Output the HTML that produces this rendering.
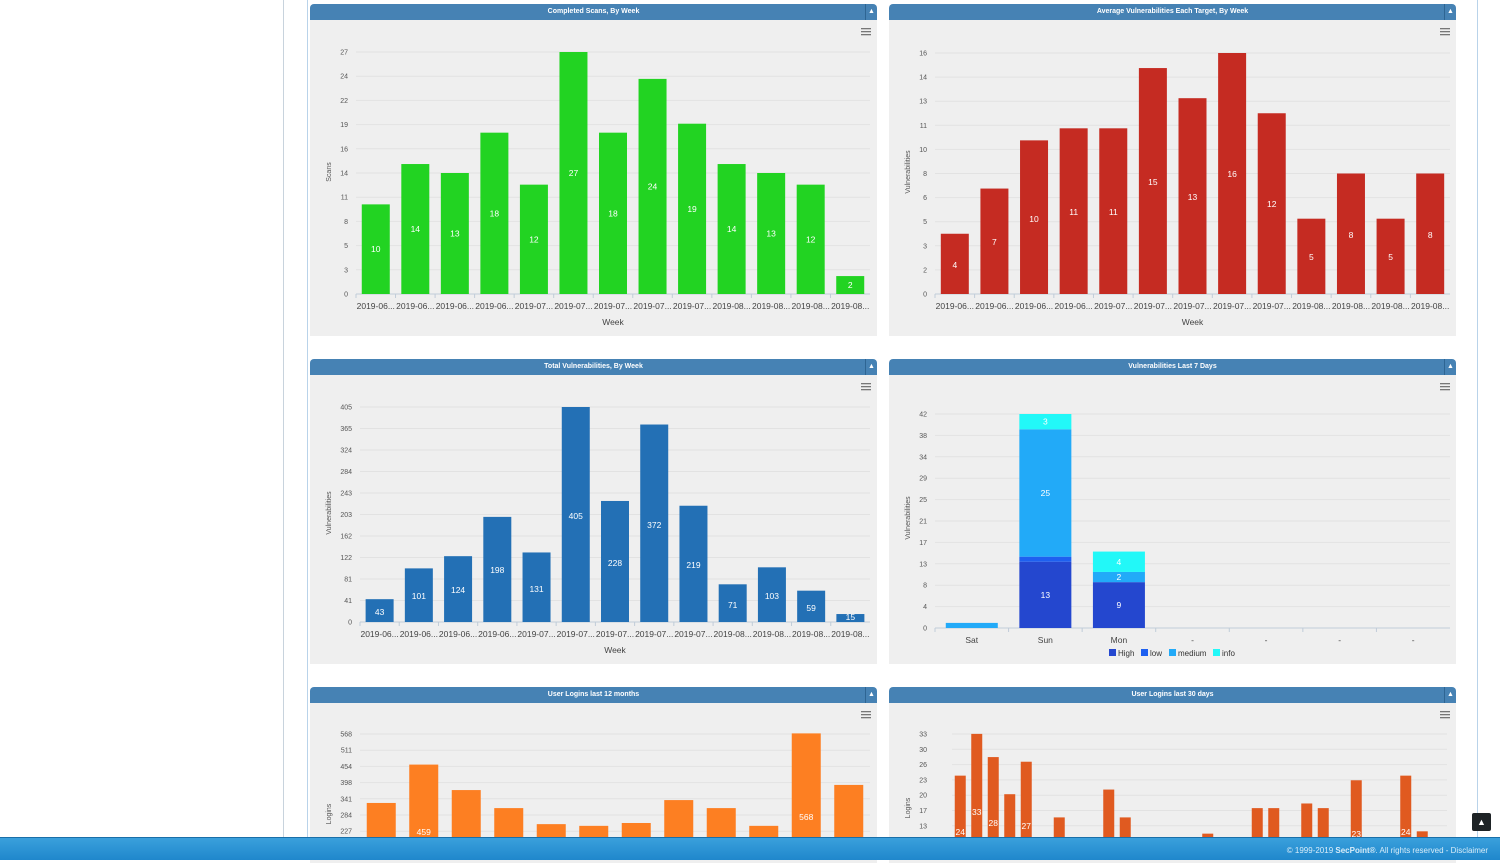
<!DOCTYPE html>
<html><head><meta charset="utf-8"><style>
html,body{margin:0;padding:0;width:1500px;height:859px;overflow:hidden;background:#fff;font-family:"Liberation Sans",sans-serif}
#side{position:absolute;left:283px;top:0;width:1px;height:859px;background:#c8d3dd}
#main{position:absolute;left:307px;top:0;width:1169px;height:859px;border-left:1px solid #b9d3ea;border-right:1px solid #b9d3ea}
.hdr{position:absolute;height:16px;background:#4682b4;border-radius:4px 4px 0 0;color:#fff;font-size:7px;font-weight:bold;text-align:center;line-height:16px}
.hdr .ar{position:absolute;right:0;top:0;width:11px;height:16px;border-left:1px solid #2e6593;font-size:7px;line-height:16px;text-align:center}
.bd{position:absolute;background:#efefef}
#foot{position:absolute;left:0;top:837px;width:1500px;height:22px;background:linear-gradient(#3aa0dc,#1f87cc);border-top:1px solid #1a6fa8}
#foot span{position:absolute;right:12px;top:8px;font-size:8px;color:#d8ecf8}
#top{position:absolute;left:1472px;top:813px;width:19px;height:18px;background:#1e2326;border-radius:2px;color:#fff;font-size:9px;text-align:center;line-height:18px}
svg{position:absolute;left:0;top:0}
</style></head><body>
<div id="side"></div><div id="main"></div>
<div id="panels"></div>
<svg id="s" width="1500" height="859" font-family="Liberation Sans, sans-serif"></svg>
<div id="foot"><span>© 1999-2019 <b>SecPoint®</b>. All rights reserved - Disclaimer</span></div>
<div id="top">▲</div>
<script>
var P=document.getElementById('panels'),S=document.getElementById('s'),h='';
function panel(x,y,w,bh,t){P.innerHTML+='<div class="bd" style="left:'+x+'px;top:'+(y+16)+'px;width:'+w+'px;height:'+bh+'px"></div><div class="hdr" style="left:'+x+'px;top:'+y+'px;width:'+w+'px">'+t+'<div class="ar">▲</div></div>';
 for(var i=0;i<3;i++)h+='<rect x="'+(x+w-16)+'" y="'+(y+24+i*3)+'" width="10" height="1.3" fill="#777"/>';}
panel(310,4,567,316,'Completed Scans, By Week');
panel(889,4,567,316,'Average Vulnerabilities Each Target, By Week');
panel(310,359,567,289,'Total Vulnerabilities, By Week');
panel(889,359,567,289,'Vulnerabilities Last 7 Days');
panel(310,687,567,160,'User Logins last 12 months');
panel(889,687,567,160,'User Logins last 30 days');
function T(x,y,s,sz,c,a,extra){h+='<text x="'+x+'" y="'+y+'" font-size="'+sz+'" fill="'+c+'" text-anchor="'+(a||'middle')+'" '+(extra||'')+'>'+s+'</text>';}
function chart(o){
 var y0=o.y0,y1=o.y1;
 for(var i=0;i<o.ticks.length;i++){var y=y0-(y0-y1)*i/(o.ticks.length-1);
  h+='<line x1="'+o.px0+'" x2="'+o.px1+'" y1="'+y+'" y2="'+y+'" stroke="#e2e2e2" stroke-width="1"/>';
  T(o.lx,y+2.5,o.ticks[i],7,'#555','end');}
 h+='<line x1="'+o.px0+'" x2="'+o.px1+'" y1="'+y0+'" y2="'+y0+'" stroke="#c0ccd8"/>';
 var n=o.vals.length,cw=(o.px1-o.px0)/n;
 for(i=0;i<n;i++){var v=o.vals[i],cx=o.px0+cw*(i+.5);
  if(o.xl){h+='<line x1="'+(o.px0+cw*i)+'" x2="'+(o.px0+cw*i)+'" y1="'+y0+'" y2="'+(y0+4)+'" stroke="#c0ccd8"/>';T(cx,y0+15,o.xl[i],8.5,'#444');}
  if(v==null)continue;var top=y0-v*o.k;
  h+='<rect x="'+(cx-o.bw/2)+'" y="'+top+'" width="'+o.bw+'" height="'+(y0-top)+'" fill="'+o.c+'"/>';
  if(o.lab&&o.lab[i]!=null)T(cx,o.laby?o.laby[i]:(top+(y0-top)/2+3),o.lab[i],8.5,'#fff');}
 if(o.title)T(o.tx,o.ty,o.title,7,'#555','middle','transform="rotate(-90 '+o.tx+' '+o.ty+')"');
 if(o.xt)T((o.px0+o.px1)/2,o.y0+31,o.xt,8.5,'#444');
}
var wk1=['2019-06...','2019-06...','2019-06...','2019-06...','2019-07...','2019-07...','2019-07...','2019-07...','2019-07...','2019-08...','2019-08...','2019-08...','2019-08...'];
var v1=[10,14.5,13.5,18,12.2,27,18,24,19,14.5,13.5,12.2,2];
chart({y0:294,y1:52,ticks:[0,3,5,8,11,14,16,19,22,24,27],lx:348,px0:356,px1:870,vals:v1,k:242/27,bw:28,c:'#22d322',lab:[10,14,13,18,12,27,18,24,19,14,13,12,2],xl:wk1,title:'Scans',tx:331,ty:172,xt:'Week'});
var v2=[4,7,10.2,11,11,15,13,16,12,5,8,5,8];
chart({y0:294,y1:53,ticks:[0,2,3,5,6,8,10,11,13,14,16],lx:927,px0:935,px1:1450,vals:v2,k:241/16,bw:28,c:'#c52b22',lab:[4,7,10,11,11,15,13,16,12,5,8,5,8],laby:[268,245,222,215,215,185,200,177,207,260,238,260,238],xl:wk1,title:'Vulnerabilities',tx:910,ty:172,xt:'Week'});
var v3=[43,101,124,198,131,405,228,372,219,71,103,59,15];
chart({y0:622,y1:407,ticks:[0,41,81,122,162,203,243,284,324,365,405],lx:352,px0:360,px1:870,vals:v3,k:215/405,bw:28,c:'#2370b5',lab:v3,laby:[615,599,593,573,592,519,566,528,568,608,599,611,620],xl:wk1,title:'Vulnerabilities',tx:331,ty:513,xt:'Week'});
// stacked chart 4
(function(){var y0=628,y1=414,k=214/42,px0=935,px1=1450,ticks=[0,4,8,13,17,21,25,29,34,38,42];
 for(var i=0;i<ticks.length;i++){var y=y0-(y0-y1)*i/10;h+='<line x1="'+px0+'" x2="'+px1+'" y1="'+y+'" y2="'+y+'" stroke="#e2e2e2"/>';T(927,y+2.5,ticks[i],7,'#555','end');}
 h+='<line x1="'+px0+'" x2="'+px1+'" y1="'+y0+'" y2="'+y0+'" stroke="#c0ccd8"/>';
 var cw=(px1-px0)/7,xl=['Sat','Sun','Mon','-','-','-','-'];
 var cols=['#2447cf','#1e60f0','#22aaf8','#22f8f8'];
 var data=[[0,0,1,0],[13,1,25,3],[9,0,2,4]],labs=[[null,null,null,null],[13,null,25,3],[9,null,2,4]];
 for(i=0;i<7;i++){var cx=px0+cw*(i+.5);h+='<line x1="'+(px0+cw*i)+'" x2="'+(px0+cw*i)+'" y1="'+y0+'" y2="'+(y0+4)+'" stroke="#c0ccd8"/>';T(cx,y0+15,xl[i],8.5,'#444');
  if(i<3){var b=y0;for(var j=0;j<4;j++){var v=data[i][j];if(!v)continue;var hh=v*k;h+='<rect x="'+(cx-26)+'" y="'+(b-hh)+'" width="52" height="'+hh+'" fill="'+cols[j]+'"/>';if(labs[i][j]!=null)T(cx,b-hh/2+3,labs[i][j],8.5,'#fff');b-=hh;}}}
 T(910,518,'Vulnerabilities',7,'#555','middle','transform="rotate(-90 910 518)"');
 var lx=1109,names=['High','low','medium','info'],off=[0,32,60,104];
 for(j=0;j<4;j++){h+='<rect x="'+(lx+off[j])+'" y="649" width="7" height="7" fill="'+cols[j]+'"/>';T(lx+off[j]+9,656,names[j],8,'#333','start');}
})();
var v5=[325,459,370,307,251,245,255,335,307,245,568,388];
chart({y0:896,y1:734,ticks:[0,0,0,0,227,284,341,398,454,511,568],lx:352,px0:360,px1:870,vals:v5,k:0.2863,bw:29,c:'#fd7f22',lab:[null,459,null,null,null,null,null,null,null,null,568,null],laby:[0,835,0,0,0,0,0,0,0,0,820,0],title:'Logins',tx:331,ty:814});
var v6=[],l6=[];for(var i=0;i<30;i++){v6.push(null);l6.push(null);}
var idx=[0,1,2,3,4,6,9,10,15,18,19,21,22,24,27,28],vv=[24,33,28,20,27,15,21,15,11.5,17,17,18,17,23,24,12];
idx.forEach(function(a,b){v6[a]=vv[b];});l6[0]=24;l6[1]=33;l6[2]=28;l6[4]=27;l6[24]=23;l6[27]=24;
chart({y0:887,y1:734,ticks:[0,0,0,0,13,17,20,23,26,30,33],lx:927,px0:952,px1:1447,vals:v6,k:4.64,bw:11,c:'#e05a20',lab:l6,laby:[835,815,826,0,829,0,0,0,0,0,0,0,0,0,0,0,0,0,0,0,0,0,0,0,837,0,0,835,0,0],title:'Logins',tx:910,ty:808});
S.innerHTML=h;
// hide the fake "0" ticks that fall off-panel
</script>
</body></html>
